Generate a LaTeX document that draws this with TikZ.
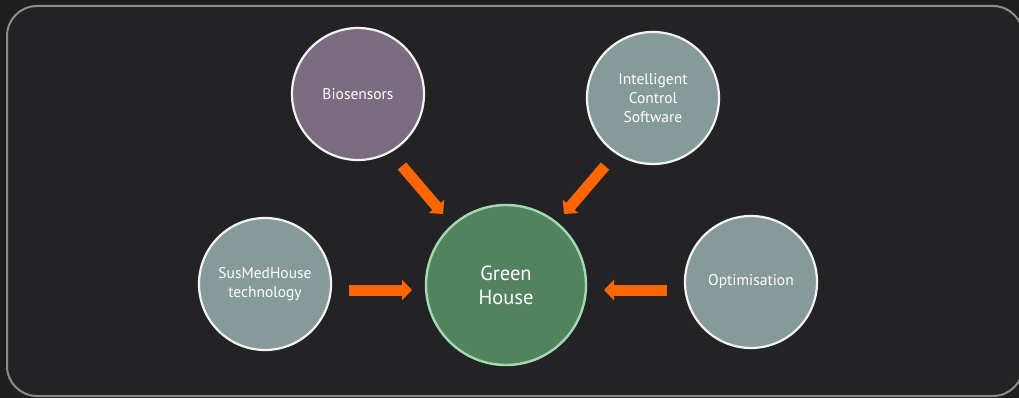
\documentclass[tikz,border=0pt]{standalone}
\usepackage{fontspec}
\setmainfont{PT Sans}
\usetikzlibrary{arrows.meta}
\definecolor{bgout}{HTML}{1E1E1F}
\definecolor{bgin}{HTML}{232325}
\definecolor{framec}{HTML}{8C8C8C}
\definecolor{biofill}{HTML}{7A6B80}
\definecolor{greyfill}{HTML}{869A99}
\definecolor{ghfill}{HTML}{528260}
\definecolor{ghline}{HTML}{A2D9B1}
\definecolor{ringc}{HTML}{F2F2F2}
\definecolor{arrowc}{HTML}{FF6600}
\tikzset{
  x=1pt, y=-1pt,
  bubble/.style={circle, draw=ringc, line width=2.2pt, minimum size=132pt, inner sep=0pt,
    text=white, align=center, font=\fontsize{15.5}{19}\selectfont},
  bigbubble/.style={circle, draw=ghline, line width=2.4pt, fill=ghfill, minimum size=160pt, inner sep=0pt,
    text=white, align=center, font=\fontsize{20.5}{24}\selectfont},
  blk/.style={draw=arrowc, line width=11pt, line cap=butt,
    -{Triangle[width=20pt,length=10pt]}, arrowc},
}
\begin{document}
\begin{tikzpicture}
\useasboundingbox (0,0) rectangle (1019,398);
\fill[bgout] (0,0) rectangle (1019,398);
\draw[framec, fill=bgin, line width=2pt, rounded corners=30pt] (7,6) rectangle (1023,396);

\node[bubble, fill=biofill] (bio) at (358,94) {Biosensors};
\node[bubble, fill=greyfill] (ics) at (653,98) {Intelligent\\Control\\Software};
\node[bubble, fill=greyfill] (smh) at (265,284) {SusMedHouse\\technology};
\node[bubble, fill=greyfill] (opt) at (751,282) {Optimisation};
\node[bigbubble] (gh) at (506,285) {Green\\House};

\coordinate (a1s) at (402,166);
\coordinate (a1e) at (443,214);
\coordinate (a2s) at (605,166);
\coordinate (a2e) at (564,214);
\coordinate (a3s) at (349,290);
\coordinate (a3e) at (412,290);
\coordinate (a4s) at (667,290);
\coordinate (a4e) at (604,290);

\draw[blk] (a1s) -- (a1e);
\draw[blk] (a2s) -- (a2e);
\draw[blk] (a3s) -- (a3e);
\draw[blk] (a4s) -- (a4e);
\end{tikzpicture}
\end{document}
